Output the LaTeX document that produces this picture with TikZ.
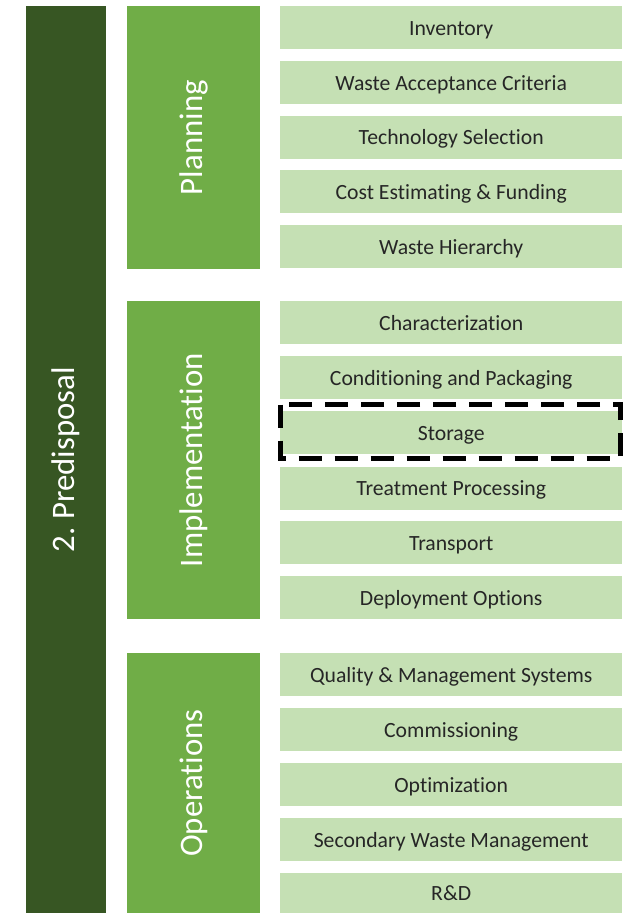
\documentclass[tikz,border=0pt]{standalone}
\usepackage{fontspec}
\setmainfont[RawFeature=-liga]{Carlito}
\definecolor{darkgreen}{HTML}{375623}
\definecolor{midgreen}{HTML}{70AD47}
\definecolor{lightgreen}{HTML}{C5E0B4}
\frenchspacing
\begin{document}
\begin{tikzpicture}[x=1pt,y=-1pt,
  itembox/.style={fill=lightgreen, draw=none, minimum width=342pt, minimum height=43pt,
    inner sep=0pt, anchor=north west, text height=16pt, text depth=1pt,
    font=\fontsize{21.7}{24}\selectfont, text=black!85},
  groupbar/.style={fill=midgreen, draw=none, inner sep=0pt, anchor=north west, minimum width=133pt},
  barlabel/.style={rotate=90, text=white, font=\fontsize{32.8}{36}\selectfont},
  highlight/.style={draw=black, line width=5pt, dash pattern=on 23pt off 13pt}]
\useasboundingbox (0,0) rectangle (628,913);
% main stage bar
\node[fill=darkgreen, inner sep=0pt, anchor=north west, minimum width=80pt, minimum height=907pt] (stage) at (26,6) {};
\node[barlabel] (stagelbl) at (stage.center) {2. Predisposal};
% group bars
\node[groupbar, minimum height=263pt] (plan) at (127,6) {};
\node[barlabel] (planlbl) at (plan.center) {Planning};
\node[groupbar, minimum height=318pt] (impl) at (127,301) {};
\node[barlabel] (impllbl) at (impl.center) {Implementation};
\node[groupbar, minimum height=260pt] (ops) at (127,653) {};
\node[barlabel] (opslbl) at (ops.center) {Operations};
% planning items
\node[itembox] (p1) at (280,6) {Inventory};
\node[itembox] (p2) at (280,61) {Waste Acceptance Criteria};
\node[itembox] (p3) at (280,115.5) {Technology Selection};
\node[itembox] (p4) at (280,170) {Cost Estimating \& Funding};
\node[itembox] (p5) at (280,225) {Waste Hierarchy};
% implementation items
\node[itembox] (i1) at (280,301) {Characterization};
\node[itembox] (i2) at (280,356) {Conditioning and Packaging};
\node[itembox] (i3) at (280,411) {Storage};
\node[itembox] (i4) at (280,466.5) {Treatment Processing};
\node[itembox] (i5) at (280,521) {Transport};
\node[itembox] (i6) at (280,576) {Deployment Options};
% operations items
\node[itembox] (o1) at (280,653) {Quality \& Management Systems};
\node[itembox] (o2) at (280,708) {Commissioning};
\node[itembox] (o3) at (280,763) {Optimization};
\node[itembox] (o4) at (280,818) {Secondary Waste Management};
\node[itembox, minimum height=40pt] (o5) at (280,873) {R\&D};
% highlight around storage
\draw[highlight] (280,404.5) rectangle (620.5,458);
\end{tikzpicture}
\end{document}
